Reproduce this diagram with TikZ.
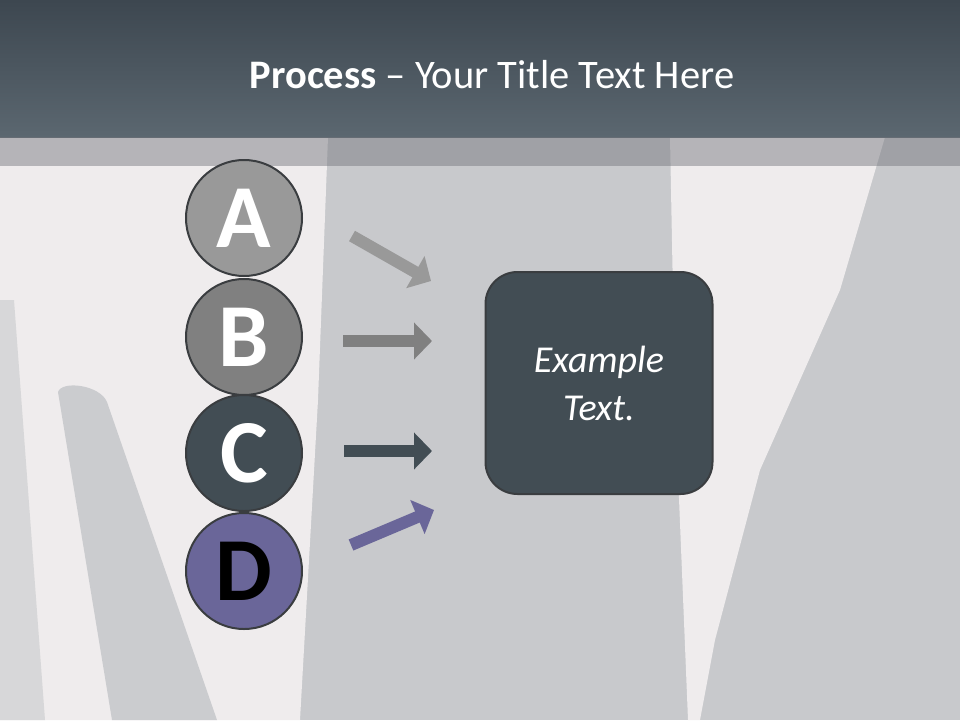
\documentclass[tikz,border=0pt]{standalone}
\usepackage{fontspec}
\setmainfont{Carlito}
\usetikzlibrary{arrows.meta}

\definecolor{headtop}{HTML}{3D4750}
\definecolor{headbot}{HTML}{5B6770}
\definecolor{bandgrey}{HTML}{71737A}
\definecolor{photogrey}{HTML}{C8C9CC}
\definecolor{photolight}{HTML}{EFECED}
\definecolor{colA}{HTML}{999999}
\definecolor{colB}{HTML}{808080}
\definecolor{colC}{HTML}{424D54}
\definecolor{colD}{HTML}{6A6699}
\definecolor{rimdark}{HTML}{3A3D40}

\tikzset{
  stepcircle/.style={circle, minimum size=116pt, inner sep=0pt, draw=rimdark,
    line width=2pt, font=\fontsize{90}{90}\selectfont\bfseries},
  blockarrow/.style={line width=12pt,
    -{Triangle[width=36pt,length=18pt]}},
  textbox/.style={rectangle, rounded corners=32pt, draw=rimdark, line width=2pt,
    fill=colC, text=white, minimum width=227pt, minimum height=222pt,
    align=center, font=\fontsize{38}{48}\selectfont\itshape}
}

\begin{document}
\begin{tikzpicture}[x=1pt,y=-1pt]
\useasboundingbox (0,0) rectangle (960,720);

% -------------------------------------------------
% Background (photo)
% -------------------------------------------------
\fill[photogrey] (0,137) rectangle (960,720);
\fill[photolight] (0,137) -- (328,137) -- (318,400) -- (300,720) -- (0,720) -- cycle;
\fill[photolight] (670,137) -- (885,137) -- (840,290) -- (760,470) -- (715,640)
  -- (700,720) -- (688,720) -- (675,400) -- cycle;
\fill[photogrey!60!photolight] (0,300) -- (14,300) -- (45,720) -- (0,720) -- cycle;
\fill[photogrey!95!white] (58,392) .. controls (62,380) and (100,385) .. (107,402)
  -- (217,720) -- (112,720) -- cycle;

% -------------------------------------------------
% Header
% -------------------------------------------------
\shade[top color=headtop, bottom color=headbot] (0,0) rectangle (960,137);
\fill[bandgrey, opacity=0.46] (0,137) rectangle (960,166);
\node[text=white, font=\fontsize{40.5}{48}\selectfont] (title) at (492,75)
  {\textbf{Process} – Your Title Text Here};

% -------------------------------------------------
% Circles
% -------------------------------------------------
\foreach \name/\y/\col/\txt/\letter in {a/218/colA/white/A, b/337/colB/white/B,
                                        c/453/colC/white/C, d/571/colD/black/D}
  \node[stepcircle, fill=\col, text=\txt] (\name) at (244,\y) {\letter};

% -------------------------------------------------
% Box
% -------------------------------------------------
\node[textbox] (box) at (599,383) {Example\\Text.};

% -------------------------------------------------
% Arrows
% -------------------------------------------------
\coordinate (a-start) at (352,236);
\coordinate (a-end)   at (431,281);
\coordinate (b-start) at (343,341);
\coordinate (b-end)   at (432,341);
\coordinate (c-start) at (344,451);
\coordinate (c-end)   at (432,451);
\coordinate (d-start) at (351,545);
\coordinate (d-end)   at (434,510);

\draw[blockarrow, draw=colA] (a-start) -- (a-end);
\draw[blockarrow, draw=colB] (b-start) -- (b-end);
\draw[blockarrow, draw=colC] (c-start) -- (c-end);
\draw[blockarrow, draw=colD] (d-start) -- (d-end);

\end{tikzpicture}
\end{document}
